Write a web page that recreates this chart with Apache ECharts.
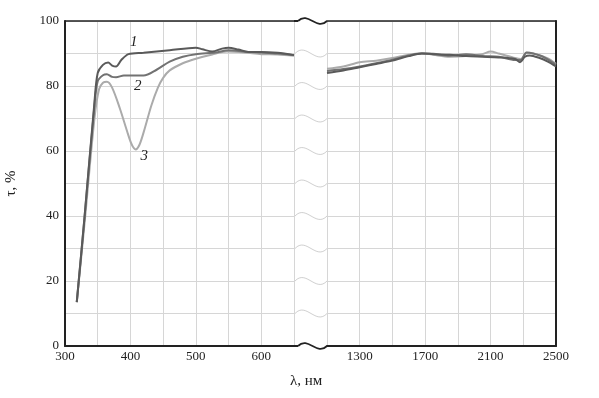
<!DOCTYPE html>
<html>
<head>
<meta charset="utf-8">
<script src="https://cdn.jsdelivr.net/npm/echarts@6/dist/echarts.min.js"></script>
<style>
    html, body { margin: 0; padding: 0; background: #fff; }
    #chart { width: 599px; height: 398px; }
</style>
</head>
<body>
<div id="chart"></div>
<script>
//== 数据: [λ нм, τ %]
// 可见光段 300-650 нм
var curve1Vis = [[318, 13.5], [330, 40], [345, 75], [350, 84], [358, 86.5], [366, 87.2], [372, 86.3], [378, 86],
    [386, 88], [397, 89.8], [420, 90.2], [460, 91], [500, 91.8], [510, 91.3], [525, 90.6], [540, 91.5], [550, 91.8],
    [565, 91.2], [580, 90.5], [600, 90.5], [625, 90.2], [650, 89.5]];
var curve2Vis = [[318, 13.5], [330, 40], [345, 74], [350, 81.5], [358, 83.3], [364, 83.6], [372, 82.8], [378, 82.7],
    [390, 83.2], [420, 83.2], [440, 85], [460, 87.5], [480, 89], [500, 89.8], [530, 90.3], [550, 91], [580, 90.5],
    [600, 90.3], [625, 90], [650, 89.5]];
var curve3Vis = [[318, 13.5], [330, 38], [345, 70], [352, 79], [358, 81], [364, 81.3], [372, 79.5], [384, 73],
    [395, 66], [402, 62], [408, 60.5], [414, 62], [422, 67], [432, 74], [442, 79.5], [450, 82.5], [460, 84.8],
    [480, 87], [500, 88.4], [525, 89.7], [547, 90.6], [575, 90.3], [600, 89.8], [625, 89.7], [650, 89.3]];
// 红外段 1100-2500 нм
var curve1Ir = [[1100, 84.0], [1200, 84.8], [1300, 85.8], [1400, 86.8], [1500, 87.8], [1600, 89.2], [1680, 90.0],
    [1750, 89.8], [1850, 89.6], [1950, 89.2], [2050, 89.0], [2150, 88.8], [2250, 88.3], [2280, 87.3], [2310, 89.0],
    [2340, 89.4], [2400, 88.6], [2450, 87.5], [2500, 86.0]];
var curve2Ir = [[1100, 84.6], [1200, 85.2], [1300, 86.0], [1400, 87.0], [1500, 88.1], [1600, 89.4], [1680, 90.0],
    [1750, 89.9], [1850, 89.3], [1950, 89.8], [2050, 89.2], [2150, 89.0], [2250, 88.0], [2285, 88.0], [2320, 90.3],
    [2360, 90.0], [2420, 89.0], [2500, 86.5]];
var curve3Ir = [[1100, 85.3], [1200, 86.0], [1300, 87.3], [1400, 87.8], [1500, 88.6], [1600, 89.6], [1680, 90.1],
    [1750, 89.6], [1850, 89.0], [1950, 89.2], [2050, 89.8], [2100, 90.6], [2150, 90.0], [2250, 88.6], [2285, 88.3],
    [2320, 90.2], [2380, 89.8], [2450, 88.5], [2500, 86.8]];

//== 刻度标签
var xLabelsVis = [300, 400, 500, 600];
var xLabelsIr = [1300, 1700, 2100, 2500];
var yLabels = [0, 20, 40, 60, 80, 100];
// 断轴处的网格水平线
var breakLevels = [0, 10, 20, 30, 40, 50, 60, 70, 80, 90, 100];

//== 曲线编号位置
var curveNames = ['1', '2', '3'];
var namePoints = [[405, 93.5], [411, 80], [421, 58.5]];

var mChart = function () {
    var FONT = 'Liberation Serif';
    var AXIS = '#222';
    var GRID = '#d6d6d6';
    var colors = ['#5a5a5a', '#727272', '#ababab'];

    var labelFmt = function (list) {
        return function (v) {
            return list.indexOf(v) >= 0 ? String(v) : '';
        };
    };

    var bottomAxis = function (gridIndex, min, max, interval, labels) {
        return {
            type: 'value', gridIndex: gridIndex, position: 'bottom',
            min: min, max: max, interval: interval,
            axisLine: {show: true, onZero: false, lineStyle: {color: AXIS, width: 2}},
            axisTick: {show: false},
            axisLabel: {formatter: labelFmt(labels), color: AXIS, fontFamily: FONT, fontSize: 13, margin: 4,
                showMinLabel: true, showMaxLabel: true},
            splitLine: {show: true, lineStyle: {color: GRID, width: 1}}
        };
    };

    var topAxis = function (gridIndex) {
        return {
            type: 'value', gridIndex: gridIndex, position: 'top', min: 0, max: 1,
            axisLine: {show: true, onZero: false, lineStyle: {color: AXIS, width: 1.5}},
            axisTick: {show: false}, axisLabel: {show: false}, splitLine: {show: false}
        };
    };

    var line = function (data, idx, gridIdx) {
        return {
            type: 'line', data: data, xAxisIndex: gridIdx === 0 ? 0 : 2, yAxisIndex: gridIdx,
            symbol: 'none', smooth: 0.3, z: 5 - idx,
            lineStyle: {color: colors[idx], width: 2}
        };
    };

    var initCharts = function (selector) {
        var myChart = echarts.init(document.querySelector(selector), null, {renderer: 'canvas'});

        var visSeries = [line(curve1Vis, 0, 0), line(curve2Vis, 1, 0), line(curve3Vis, 2, 0)];
        visSeries.forEach(function (s, i) {
            s.markPoint = {
                symbol: 'circle', symbolSize: 1, itemStyle: {color: 'transparent'},
                data: [{coord: namePoints[i]}],
                label: {show: true, position: 'inside', formatter: curveNames[i], color: '#222',
                    fontFamily: FONT, fontStyle: 'italic', fontSize: 15}
            };
        });

        var option = {
            animation: false,
            backgroundColor: '#fff',
            grid: [
                {left: 65, top: 21, width: 229, height: 325},
                {left: 327, top: 21, width: 229, height: 325},
                {left: 294, top: 21, width: 33, height: 325}
            ],
            xAxis: [
                bottomAxis(0, 300, 650, 50, xLabelsVis),
                topAxis(0),
                bottomAxis(1, 1100, 2500, 200, xLabelsIr),
                topAxis(1),
                {type: 'value', gridIndex: 2, min: 0, max: 1, show: false}
            ],
            yAxis: [
                {
                    type: 'value', gridIndex: 0, min: 0, max: 100, interval: 10, position: 'left',
                    name: 'τ, %', nameLocation: 'middle', nameGap: 46, nameRotate: 90,
                    nameTextStyle: {color: AXIS, fontFamily: FONT, fontSize: 15},
                    axisLine: {show: true, onZero: false, lineStyle: {color: AXIS, width: 2}},
                    axisTick: {show: false},
                    axisLabel: {formatter: labelFmt(yLabels), color: AXIS, fontFamily: FONT, fontSize: 13, margin: 6},
                    splitLine: {show: true, lineStyle: {color: GRID, width: 1}}
                },
                {
                    type: 'value', gridIndex: 1, min: 0, max: 100, interval: 10, position: 'right',
                    axisLine: {show: true, onZero: false, lineStyle: {color: AXIS, width: 2}},
                    axisTick: {show: false}, axisLabel: {show: false},
                    splitLine: {show: true, lineStyle: {color: GRID, width: 1}}
                },
                {type: 'value', gridIndex: 2, min: 0, max: 100, show: false}
            ],
            graphic: [{
                type: 'text', left: 290, top: 374,
                style: {text: 'λ, нм', fill: AXIS, font: '15px "Liberation Serif"'}
            }],
            series: visSeries.concat([
                line(curve1Ir, 0, 1), line(curve2Ir, 1, 1), line(curve3Ir, 2, 1),
                {
                    //== 断轴波浪线
                    type: 'custom', xAxisIndex: 4, yAxisIndex: 2, z: 6,
                    data: breakLevels.map(function (v) { return [0, v]; }),
                    renderItem: function (params, api) {
                        var lv = api.value(1);
                        var a = api.coord([0, lv]);
                        var b = api.coord([1, lv]);
                        var edge = lv === 0 || lv === 100;
                        var x0 = edge ? a[0] + 4 : a[0] + 1;
                        var amp = edge ? 10 : 12;
                        return {
                            type: 'group',
                            children: [{
                                type: 'line',
                                shape: {x1: a[0], y1: a[1], x2: x0, y2: a[1]},
                                style: {stroke: edge ? AXIS : 'transparent', lineWidth: edge ? 2 : 1}
                            }, {
                                type: 'bezierCurve',
                                shape: {x1: x0, y1: a[1], x2: b[0], y2: b[1],
                                    cpx1: x0 + (b[0] - x0) * 0.35, cpy1: a[1] - amp,
                                    cpx2: x0 + (b[0] - x0) * 0.65, cpy2: a[1] + amp},
                                style: {stroke: edge ? AXIS : '#d0d0d0', lineWidth: edge ? 1.8 : 1, fill: null}
                            }]
                        };
                    }
                }
            ])
        };
        if (option && typeof option === "object") {
            myChart.setOption(option, true);
        }
    };
    return {
        //== 初始化页面
        init: function () {
            initCharts('#chart');
        }
    };
}();

mChart.init();
</script>
</body>
</html>
